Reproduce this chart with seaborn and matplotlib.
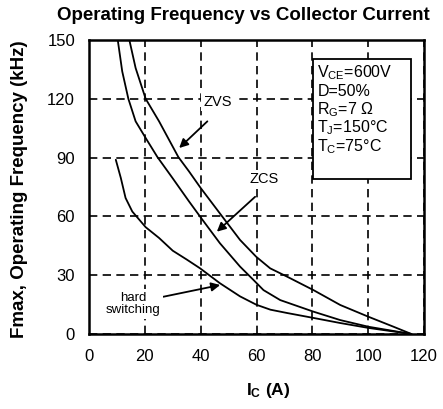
import numpy as np
import pandas as pd
import matplotlib
matplotlib.use("Agg")
import matplotlib.pyplot as plt
import seaborn as sns
from matplotlib.patches import Rectangle

sns.set_style("white")
plt.rcParams['font.family'] = ['Liberation Sans', 'DejaVu Sans']
plt.rcParams['text.color'] = 'k'
plt.rcParams['mathtext.fontset'] = 'custom'
plt.rcParams['mathtext.rm'] = 'Liberation Sans'
plt.rcParams['mathtext.it'] = 'Liberation Sans:italic'
plt.rcParams['mathtext.bf'] = 'Liberation Sans:bold'

# values
zvs_ic = [14.3, 16.7, 20.3, 25.1, 32.0, 35.8, 40.0, 46.9, 54.1, 59.9, 64.9, 70.9, 80.4, 90.0, 100.1, 109.1, 115.5]
zvs_f = [151, 135.7, 120, 108.5, 90.3, 83, 74.5, 61.5, 48, 39.4, 33.5, 29.3, 22.4, 14.8, 8.8, 3.7, 0]

zcs_ic = [10.2, 11.9, 14.1, 16.7, 20.3, 24.5, 29.9, 35.8, 40.0, 46.9, 54.1, 58.9, 62.5, 68.5, 80.4, 90.0, 100.1, 115.5]
zcs_f = [151, 134, 120, 108.5, 100, 90.3, 79.6, 67.7, 59.5, 46.3, 34.4, 27.6, 22.4, 17.3, 11.4, 7.1, 3.7, 0]

hard_ic = [9.6, 11.4, 13.1, 15.5, 20.3, 25.1, 30.0, 35.0, 39.8, 46.9, 54.1, 60.0, 65.0, 71.0, 80.4, 90.0, 100.1, 115.5]
hard_f = [88.9, 79.6, 69.4, 62.5, 54.5, 49, 42.5, 38, 33.5, 25.9, 19.2, 14.9, 12.4, 10.7, 8.2, 5.6, 3.1, 0]

x_ticks = [0, 20, 40, 60, 80, 100, 120]
y_ticks = [0, 30, 60, 90, 120, 150]

conditions = [r'V$_{\rm CE}$=600V', 'D=50%', r'R$_{\rm G}$=7 Ω',
              r'T$_{\rm J}$=150°C', r'T$_{\rm C}$=75°C']

df = pd.concat([
    pd.DataFrame({'Ic': zvs_ic, 'f': zvs_f, 'mode': 'ZVS'}),
    pd.DataFrame({'Ic': zcs_ic, 'f': zcs_f, 'mode': 'ZCS'}),
    pd.DataFrame({'Ic': hard_ic, 'f': hard_f, 'mode': 'hard switching'}),
])

fig = plt.figure(figsize=(4.43, 4.09), dpi=100)
ax = fig.add_axes([89 / 443, 1 - 334 / 409, 335 / 443, 294 / 409])

sns.lineplot(data=df, x='Ic', y='f', hue='mode', palette=['k', 'k', 'k'],
             estimator=None, sort=False, legend=False, lw=1.3, ax=ax)

ax.set_xlim(0, 120)
ax.set_ylim(0, 150)
ax.set_xticks(x_ticks)
ax.set_yticks(y_ticks)
ax.grid(True, color='k', linestyle=(0, (5, 3.2)), lw=1.2)
ax.set_axisbelow(True)
for s in ax.spines.values():
    s.set_linewidth(1.8)
    s.set_color('k')
ax.tick_params(direction='out', length=4, width=1.3, labelsize=12, colors='k')
ax.tick_params(axis='x', pad=7)
ax.tick_params(axis='y', pad=6)
ax.set_xlabel('')
ax.set_ylabel('')

# conditions box
ax.add_patch(Rectangle((80.2, 78.9), 35.2, 61.4, facecolor='white',
                       edgecolor='k', lw=1.3, zorder=3))
for i, line in enumerate(conditions):
    ax.text(81.8, 133.4 - i * 9.45, line, fontsize=11.5, va='center', ha='left', zorder=4)

arrow = dict(arrowstyle='-|>', color='k', lw=1.3, mutation_scale=13, shrinkA=0, shrinkB=0)
label_bg = dict(facecolor='white', edgecolor='none', pad=1.5)
ax.annotate('', xy=(32.3, 94.9), xytext=(42.4, 108.5), arrowprops=arrow)
ax.text(46.1, 118.4, 'ZVS', fontsize=10.5, ha='center', va='center', bbox=label_bg, zorder=4)
ax.annotate('', xy=(45.8, 52.2), xytext=(59.5, 70), arrowprops=arrow)
ax.text(62.7, 79.1, 'ZCS', fontsize=10.5, ha='center', va='center', bbox=label_bg, zorder=4)
ax.annotate('', xy=(47, 25), xytext=(26.6, 19), arrowprops=arrow)
ax.text(15.9, 15.3, 'hard\nswitching', fontsize=9.5, ha='center', va='center',
        linespacing=1.1, bbox=label_bg, zorder=4)

fig.text(243.5 / 443, 1 - 15 / 409, 'Operating Frequency vs Collector Current',
         fontsize=13.5, fontweight='bold', ha='center', va='center')
fig.text(20 / 443, 1 - 189 / 409, 'Fmax, Operating Frequency (kHz)',
         fontsize=13.5, fontweight='bold', rotation=90, ha='center', va='center')
fig.text(268 / 443, 1 - 390 / 409, r'I$_{\bf C}$ (A)',
         fontsize=12.5, fontweight='bold', ha='center', va='center')

fig.savefig('out.png', dpi=100)
